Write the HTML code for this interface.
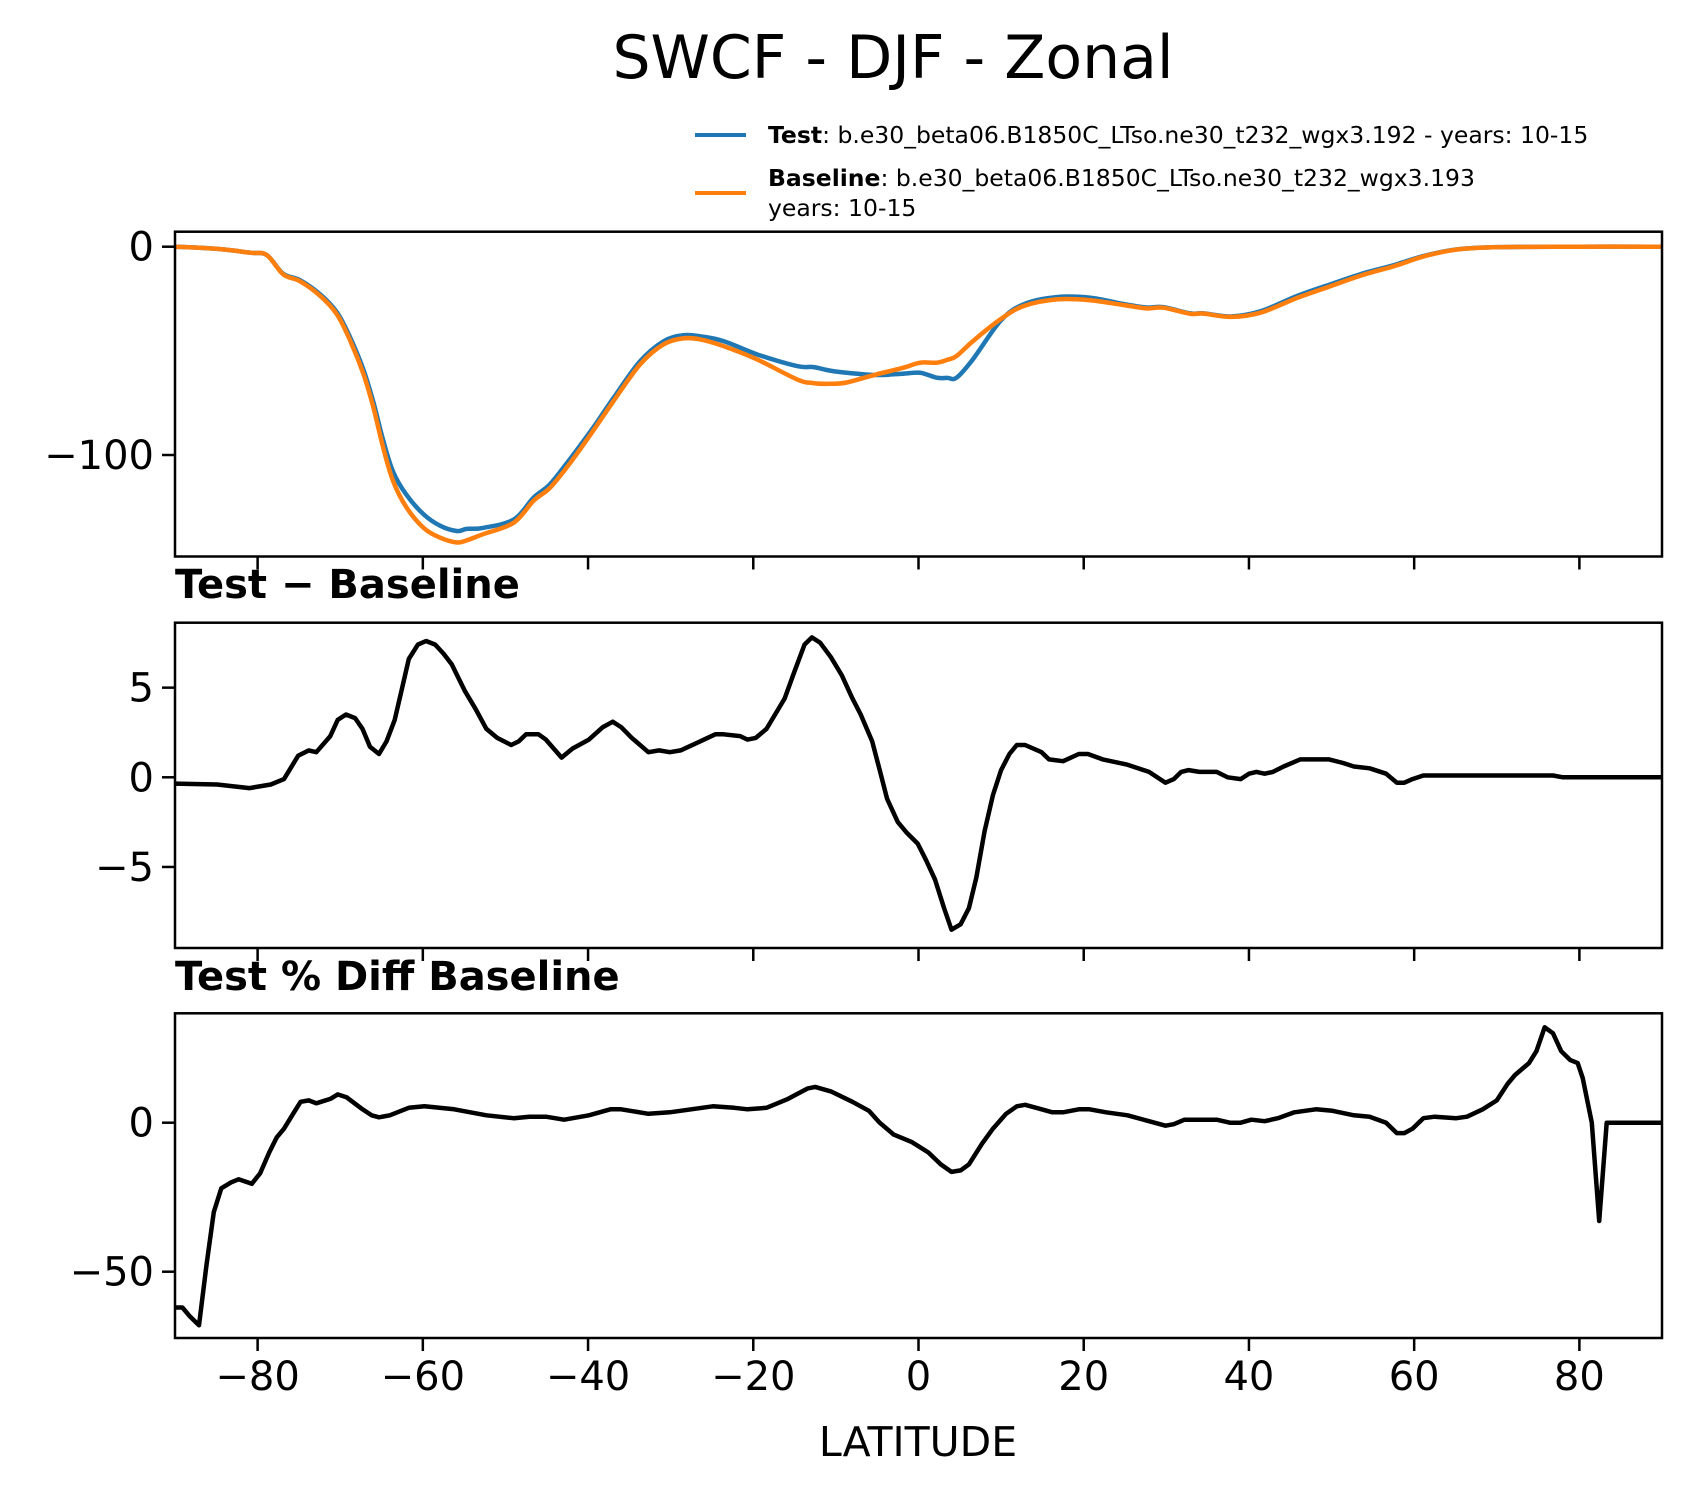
<!DOCTYPE html>
<html><head><meta charset="utf-8"><style>
html,body{margin:0;padding:0;background:#fff;}
svg{display:block;font-family:"DejaVu Sans","Liberation Sans",sans-serif;}
</style></head><body>
<svg id="chart" width="1691" height="1496" viewBox="0 0 1691 1496" xmlns="http://www.w3.org/2000/svg">
<text x="893" y="78" font-size="60" text-anchor="middle">SWCF - DJF - Zonal</text>
<g>
<line x1="695" y1="135" x2="746" y2="135" stroke="#1f77b4" stroke-width="4"/>
<text x="768" y="143" font-size="23.5"><tspan font-weight="bold">Test</tspan>: b.e30_beta06.B1850C_LTso.ne30_t232_wgx3.192 - years: 10-15</text>
<line x1="695" y1="193" x2="746" y2="193" stroke="#ff7f0e" stroke-width="4"/>
<text x="768" y="186" font-size="23.5"><tspan font-weight="bold">Baseline</tspan>: b.e30_beta06.B1850C_LTso.ne30_t232_wgx3.193</text>
<text x="768" y="216" font-size="23.5">years: 10-15</text>
</g>
<text x="175" y="598" font-size="40" font-weight="bold">Test − Baseline</text>
<text x="175" y="990" font-size="40" font-weight="bold">Test % Diff Baseline</text>
<text x="918" y="1456" font-size="41" text-anchor="middle">LATITUDE</text>
<g id="plots"></g>
</svg>
<script>
const xTicks = [-80,-60,-40,-20,0,20,40,60,80];
const topLat = [-90,-85,-80.9,-78.9,-76.9,-74.9,-72.4,-70.4,-68.8,-67.2,-66,-64.8,-63.6,-62,-59.9,-57.9,-55.9,-54.7,-52.7,-49,-46.6,-44.6,-42.2,-39.4,-36.9,-33.7,-30.9,-28.5,-26.4,-23.6,-19.6,-14.7,-12.7,-10.7,-8.7,-5.1,-2,0.2,2.2,3.5,4.6,6.6,9.9,12.7,16.7,20.8,24.8,27.6,29.6,32.9,34.5,37.8,41.4,45.9,49.9,54,57.6,61.3,65.3,70.2,80,90];
const baselineVals = [0,-1,-2.9,-4,-13.3,-16.5,-23.7,-32.5,-45,-61,-77,-96.5,-112.5,-125,-135,-139.7,-142,-141,-138,-132.5,-122,-115.7,-104,-88.5,-74,-56.5,-47,-44,-44.5,-47.7,-54,-63.7,-65.5,-65.8,-65.2,-61.3,-58.3,-55.7,-55.7,-54.3,-52.5,-45.3,-34.9,-28.5,-25.3,-25.7,-28,-29.6,-29.3,-32.2,-32.1,-33.7,-31.7,-24.5,-18.9,-13.3,-9.3,-4.5,-1.3,-0.2,0,0];
const testVals = [0,-1,-2.9,-4,-13,-16,-23,-31.5,-43.5,-59,-74.5,-93,-108,-119,-128.5,-134,-136.5,-135.5,-135,-131,-120.5,-114,-102,-87,-72.5,-55,-45.5,-42.5,-43,-45.3,-51.6,-57.3,-57.8,-59.5,-60.5,-61.6,-61,-60.5,-62.9,-63,-62.9,-54,-35.7,-27.7,-24.2,-24.5,-27.5,-29.2,-29,-32,-32,-33.5,-31,-23.5,-18,-12.6,-8.8,-4.3,-1.2,-0.2,0,0];
const diffLat = [-90,-84.9,-81,-78.4,-76.8,-75.1,-73.8,-72.9,-71.2,-70.3,-69.3,-68.2,-67.3,-66.4,-65.3,-64.4,-63.4,-62.5,-61.7,-60.6,-59.6,-58.5,-57.5,-56.5,-54.9,-53.6,-52.3,-51,-49.3,-48.4,-47.5,-46,-45.1,-43.2,-41.9,-39.9,-38.2,-37,-36,-34.7,-32.7,-31.4,-30.1,-28.8,-26.9,-24.6,-23.6,-21.6,-20.7,-19.7,-18.4,-17.1,-16.2,-15.1,-13.8,-12.9,-11.9,-10.6,-9.3,-8,-7,-5.6,-4.7,-3.8,-2.5,-1.4,-0.1,0.9,2,3.1,4,5.1,6.1,7,8,9,10,11,11.9,12.9,14.9,15.8,17.5,19.4,20.5,22.3,25.3,27.9,29.9,30.9,31.8,32.7,34,36.1,37.4,39,40,40.9,41.9,42.9,44.2,46.2,48.1,49.7,51.4,52.7,54.6,56.6,57.9,58.8,59.8,61.1,63.8,71.6,76.8,78,90];
const diffVals = [-0.35,-0.4,-0.6,-0.4,-0.1,1.2,1.5,1.4,2.3,3.2,3.5,3.3,2.7,1.7,1.3,2.0,3.2,5.0,6.6,7.4,7.6,7.4,6.9,6.3,4.8,3.8,2.7,2.2,1.8,2.0,2.4,2.4,2.1,1.1,1.6,2.1,2.8,3.1,2.8,2.2,1.4,1.5,1.4,1.5,1.9,2.4,2.4,2.3,2.1,2.2,2.7,3.7,4.4,5.8,7.4,7.8,7.5,6.7,5.7,4.4,3.5,2.0,0.4,-1.2,-2.5,-3.1,-3.7,-4.6,-5.7,-7.3,-8.5,-8.2,-7.3,-5.6,-3.0,-1.0,0.4,1.3,1.8,1.8,1.4,1.0,0.9,1.3,1.3,1.0,0.7,0.3,-0.3,-0.1,0.3,0.4,0.3,0.3,0.0,-0.1,0.2,0.3,0.2,0.3,0.6,1.0,1.0,1.0,0.8,0.6,0.5,0.2,-0.3,-0.3,-0.1,0.1,0.1,0.1,0.1,0.0,0.0];
const pctLat = [-90,-89.1,-88.2,-87.1,-86.2,-85.3,-84.4,-83.2,-82.3,-80.7,-79.7,-78.6,-77.7,-76.8,-75.7,-74.8,-73.8,-72.9,-71.2,-70.3,-69.2,-67.3,-66.2,-65.3,-64,-61.7,-59.8,-56.2,-52.3,-49,-47.1,-45.1,-42.9,-39.9,-37.3,-36,-32.7,-30.1,-27.5,-24.9,-22.3,-20.7,-18.4,-15.8,-13.4,-12.5,-10.6,-8,-6,-4.7,-3,-0.8,1.2,2.7,4,5.1,6.1,7.7,9,10.6,11.9,12.9,14.9,16.2,17.5,19.4,20.7,22.7,25.3,27.9,29.9,30.9,32.2,33.8,36.1,37.7,39,40.3,41.9,43.5,45.5,48.1,50.1,52.7,54.6,56.6,57.9,58.8,59.8,61.1,62.5,65.1,66.4,68.3,70,71.3,72.2,73.9,74.8,75.8,76.8,77.8,78.9,79.8,80.4,81.5,82.4,83.3,90];
const pctVals = [-62,-62,-65,-68,-48,-30,-22,-20,-19,-20.5,-17,-10,-5,-2,3,7,7.5,6.5,8,9.5,8.5,4.5,2.5,1.8,2.5,5,5.5,4.5,2.5,1.5,2,2,1,2.5,4.5,4.5,3,3.5,4.5,5.5,5,4.5,5,8,11.5,12,10.5,7,4,0,-4,-6.5,-10,-14,-16.5,-16,-14,-7,-2,3,5.5,6,4.5,3.5,3.5,4.5,4.5,3.5,2.5,0.5,-1,-0.5,1,1,1,0,0,1,0.5,1.5,3.5,4.5,4,2.5,2,0,-3.5,-3.5,-2,1.5,2,1.5,2,4.5,7.5,13,16,20,24,32,30,24,21,20,15,0,-33,0,0];

const NS = 'http://www.w3.org/2000/svg';
const root = document.getElementById('plots');
const X0 = 175, X1 = 1662;
function xScale(lat){ return X0 + (lat + 90) / 180 * (X1 - X0); }
function mk(tag, attrs){ const e = document.createElementNS(NS, tag); for (const k in attrs) e.setAttribute(k, attrs[k]); root.appendChild(e); return e; }

const panels = [
  {top:231.7, bot:556.5, y0:246.7, ppu:2.083, yTicks:[0,-100], labels:['0','−100'], name:'mean'},
  {top:622.7, bot:948, y0:777.3, ppu:17.93, yTicks:[5,0,-5], labels:['5','0','−5'], name:'diff'},
  {top:1013.3, bot:1338, y0:1122.7, ppu:2.98, yTicks:[0,-50], labels:['0','−50'], name:'pctdiff'}
];
function yScaleFor(p){ return v => p.y0 - v * p.ppu; }

function drawLine(lats, vals, p, color, name, smooth){
  const ys = yScaleFor(p);
  const pts = lats.map((la, i) => [xScale(la), ys(vals[i])]);
  let d = 'M' + pts[0][0].toFixed(1) + ' ' + pts[0][1].toFixed(1);
  for (let i = 1; i < pts.length; i++) {
    if (smooth) {
      const p0 = pts[Math.max(0, i - 2)], p1 = pts[i - 1], p2 = pts[i], p3 = pts[Math.min(pts.length - 1, i + 1)];
      const c1x = p1[0] + (p2[0] - p0[0]) / 6, c1y = p1[1] + (p2[1] - p0[1]) / 6;
      const c2x = p2[0] - (p3[0] - p1[0]) / 6, c2y = p2[1] - (p3[1] - p1[1]) / 6;
      d += ' C' + c1x.toFixed(1) + ' ' + c1y.toFixed(1) + ' ' + c2x.toFixed(1) + ' ' + c2y.toFixed(1) + ' ' + p2[0].toFixed(1) + ' ' + p2[1].toFixed(1);
    } else {
      d += ' L' + pts[i][0].toFixed(1) + ' ' + pts[i][1].toFixed(1);
    }
  }
  const el = mk('path', {d:d, fill:'none', stroke:color, 'stroke-width':4.5, 'stroke-linejoin':'round', 'clip-path':'url(#clip-' + p.name + ')'});
  
  
}

const defs = document.createElementNS(NS, 'defs'); root.appendChild(defs);
panels.forEach((p, pi) => {
  const cp = document.createElementNS(NS, 'clipPath'); cp.setAttribute('id', 'clip-' + p.name);
  const r = document.createElementNS(NS, 'rect');
  r.setAttribute('x', X0); r.setAttribute('y', p.top); r.setAttribute('width', X1 - X0); r.setAttribute('height', p.bot - p.top);
  cp.appendChild(r); defs.appendChild(cp);
  const ys = yScaleFor(p);
  p.yTicks.forEach((t, i) => {
    const tk = mk('line', {x1:X0 - 13, x2:X0, y1:ys(t), y2:ys(t), stroke:'#000', 'stroke-width':2.5});
    
    
    const tl = mk('text', {x:X0 - 21, y:ys(t) + 14, 'font-size':40, 'text-anchor':'end'});
    tl.textContent = p.labels[i];
    
    
  });
  xTicks.forEach(t => {
    const tk = mk('line', {x1:xScale(t), x2:xScale(t), y1:p.bot, y2:p.bot + 13, stroke:'#000', 'stroke-width':2.5});
    
    
    if (pi === 2) {
      const tl = mk('text', {x:xScale(t), y:p.bot + 52, 'font-size':40, 'text-anchor':'middle'});
      tl.textContent = t < 0 ? '−' + Math.abs(t) : String(t);
      
      
    }
  });
});

drawLine(topLat, testVals, panels[0], '#1f77b4', 'test-line', true);
drawLine(topLat, baselineVals, panels[0], '#ff7f0e', 'baseline-line', true);
drawLine(diffLat, diffVals, panels[1], '#000', 'diff-line', false);
drawLine(pctLat, pctVals, panels[2], '#000', 'pctdiff-line', false);

panels.forEach(p => {
  const fr = mk('rect', {x:X0, y:p.top, width:X1 - X0, height:p.bot - p.top, fill:'none', stroke:'#000', 'stroke-width':2.5});
  
  
});
</script>
</body></html>
